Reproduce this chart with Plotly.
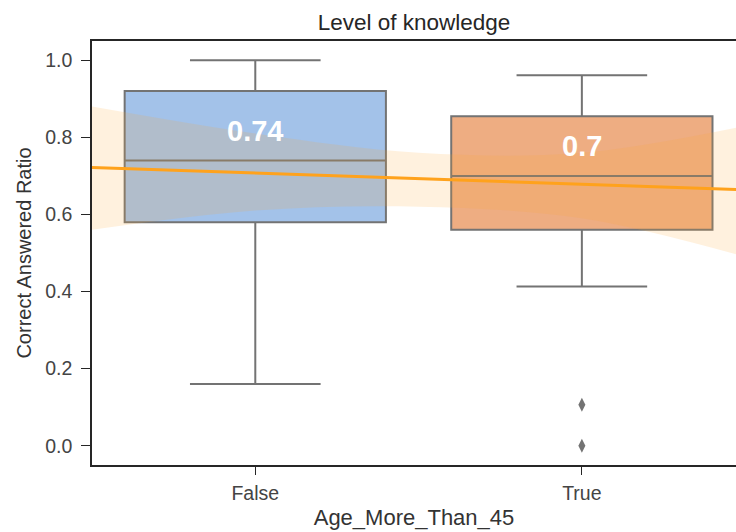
import plotly.graph_objects as go

# Categories and box statistics for the correct-answer ratio
categories = ["False", "True"]
cat_pos = [0, 1]
q1 = [0.58, 0.56]
median = [0.74, 0.70]
q3 = [0.92, 0.855]
lower_whisker = [0.16, 0.413]
upper_whisker = [1.0, 0.961]
box_colors = ["#a3c2e9", "#eead82"]

# Outliers in the "True" group
outlier_x = [1, 1]
outlier_y = [0.106, 0.0]

# Linear fit across the groups and its confidence band
fit_x = [-0.5, 1.5]
fit_y = [0.722, 0.664]
band_x = [-0.5, 0.0, 0.5, 1.0, 1.5]
band_upper = [0.88, 0.81, 0.76, 0.76, 0.83]
band_lower = [0.56, 0.61, 0.62, 0.59, 0.49]

FONT = "Liberation Sans, Arial, sans-serif"

fig = go.Figure()

for i, cat in enumerate(categories):
    fig.add_trace(go.Box(
        x=[cat_pos[i]],
        q1=[q1[i]], median=[median[i]], q3=[q3[i]],
        lowerfence=[lower_whisker[i]], upperfence=[upper_whisker[i]],
        width=0.8, whiskerwidth=0.5,
        fillcolor=box_colors[i],
        line=dict(color="#737373", width=2),
        boxpoints=False, showlegend=False, hoverinfo="skip",
    ))

fig.add_trace(go.Scatter(
    x=outlier_x, y=outlier_y, mode="markers",
    marker=dict(symbol="diamond-tall", size=10, color="#737373"),
    showlegend=False,
))

# Confidence band (drawn over the boxes, translucent)
fig.add_trace(go.Scatter(
    x=band_x, y=band_upper, mode="lines", line=dict(width=0, shape="spline"),
    showlegend=False, hoverinfo="skip",
))
fig.add_trace(go.Scatter(
    x=band_x, y=band_lower, mode="lines", line=dict(width=0, shape="spline"),
    fill="tonexty", fillcolor="rgba(255,165,50,0.16)",
    showlegend=False, hoverinfo="skip",
))
fig.add_trace(go.Scatter(
    x=fit_x, y=fit_y, mode="lines",
    line=dict(color="#ffa21c", width=3),
    showlegend=False,
))

# Median value labels
for i in range(len(categories)):
    fig.add_annotation(
        x=cat_pos[i], y=median[i] + 0.077,
        text="<b>%g</b>" % median[i], showarrow=False,
        font=dict(family=FONT, size=29, color="white"),
    )

fig.update_layout(
    width=736, height=532,
    margin=dict(l=92, r=0, t=41, b=67),
    paper_bgcolor="white", plot_bgcolor="white",
    title=dict(text="Level of knowledge", x=0.5625, xanchor="center", y=0.958, yanchor="middle",
               font=dict(family=FONT, size=22.5, color="#262626")),
    font=dict(family=FONT, size=19, color="#444444"),
)
fig.update_xaxes(
    range=[-0.5, 1.472], tickvals=cat_pos, ticktext=categories,
    showgrid=False, zeroline=False,
    showline=True, linecolor="#262626", linewidth=1.5, mirror=True,
    ticks="outside", ticklen=8, tickcolor="#262626", tickwidth=1.2,
    ticklabelstandoff=2,
    tickfont=dict(size=19.5, color="#444444"),
    title=dict(text="Age_More_Than_45", font=dict(size=22, color="#333333"), standoff=6),
)
fig.update_yaxes(
    range=[-0.05, 1.05], tickvals=[0, 0.2, 0.4, 0.6, 0.8, 1.0], tickformat=".1f",
    showgrid=False, zeroline=False,
    showline=True, linecolor="#262626", linewidth=1.5,
    ticks="outside", ticklen=9, tickcolor="#262626", tickwidth=1.2,
    ticklabelstandoff=5,
    tickfont=dict(size=19.5, color="#444444"),
    title=dict(text="Correct Answered Ratio", font=dict(size=20, color="#333333"), standoff=8),
)

fig.write_html("out.html")
